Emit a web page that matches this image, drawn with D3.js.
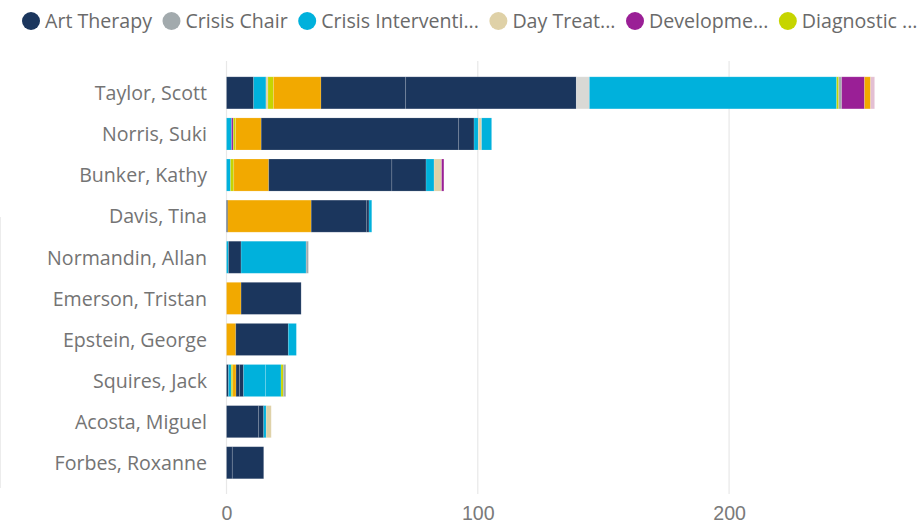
<!DOCTYPE html>
<html>
<head>
<meta charset="utf-8">
<script src="https://cdn.jsdelivr.net/npm/d3@7"></script>
<style>
  html, body { margin: 0; padding: 0; background: #ffffff; }
  svg { display: block; font-family: "Segoe UI", "Open Sans", sans-serif; }
</style>
</head>
<body>
<svg id="chart" width="923" height="524"></svg>
<script>
// Staff members, sorted by total hours
const staff = ["Taylor, Scott", "Norris, Suki", "Bunker, Kathy", "Davis, Tina", "Normandin, Allan",
  "Emerson, Tristan", "Epstein, George", "Squires, Jack", "Acosta, Miguel", "Forbes, Roxanne"];

// Service types in stacking order
const services = ["Art Therapy", "Crisis Chair", "Crisis Intervention", "Day Treatment", "Development",
  "Diagnostic", "Family Therapy", "Group Therapy", "Individual Therapy", "Intake", "Medication Mgmt",
  "Parent Training", "Psychiatric Eval", "Psych Testing", "Respite", "Skills Training", "Substance Use", "Telehealth"];

// Legend captions as they fit in the header
const legendLabels = ["Art Therapy", "Crisis Chair", "Crisis Interventi...", "Day Treat...", "Developme...", "Diagnostic ..."];

const serviceColors = ["#1b365d", "#a2aaad", "#00b1dc", "#dfd1a7", "#9a1f96", "#c6d500", "#f2a900",
  "#1b365d", "#1b365d", "#d9d9d5", "#00b1dc", "#dfd1a7", "#00b1dc", "#c6d500", "#a2aaad", "#9a1f96", "#f2a900", "#e3bfd3"];

// Hours per service, one value per staff member
const artTherapy         = [10.8, 0,    0,    0.5,  0,    0,    0,    0.8, 0,    0];
const crisisChair        = [0,    0,    0,    0,    0,    0,    0,    0,   0,    0];
const crisisIntervention = [4.9,  2.0,  1.6,  0,    0.8,  0,    0,    1.1, 0,    0];
const dayTreatment       = [0.8,  0,    0,    0,    0,    0,    0,    0,   0,    0];
const development        = [0,    0.7,  0,    0,    0,    0,    0,    0,   0,    0];
const diagnostic         = [2.2,  0.9,  1.3,  0,    0,    0,    0,    0.6, 0,    0];
const familyTherapy      = [18.9, 10.2, 13.9, 33.2, 0,    5.8,  3.7,  1.3, 0,    0];
const groupTherapy       = [33.7, 78.6, 49.0, 22.1, 5.0,  23.9, 20.9, 1.4, 12.8, 2.3];
const individualTherapy  = [67.9, 6.1,  13.6, 0.9,  0,    0,    0,    1.6, 2.0,  12.5];
const intake             = [5.2,  0,    0,    0,    0,    0,    0,    0,   0,    0];
const medicationMgmt     = [98.4, 1.7,  3.2,  1.1,  25.9, 0,    3.2,  8.7, 1.0,  0];
const parentTraining     = [0,    1.3,  3.0,  0,    0,    0,    0,    0,   2.0,  0];
const psychiatricEval    = [0,    4.0,  0,    0,    0,    0,    0,    6.2, 0,    0];
const psychTesting       = [0.8,  0,    0,    0,    0,    0,    0,    0.9, 0,    0];
const respite            = [1.2,  0,    0,    0,    0.9,  0,    0,    1.0, 0,    0];
const skillsTraining     = [9.1,  0,    0.9,  0,    0,    0,    0,    0,   0,    0];
const substanceUse       = [2.4,  0,    0,    0,    0,    0,    0,    0,   0,    0];
const telehealth         = [1.6,  0,    0,    0,    0,    0,    0,    0,   0,    0];

const xTicks = [0, 100, 200];

const seriesValues = [artTherapy, crisisChair, crisisIntervention, dayTreatment, development, diagnostic,
  familyTherapy, groupTherapy, individualTherapy, intake, medicationMgmt, parentTraining, psychiatricEval,
  psychTesting, respite, skillsTraining, substanceUse, telehealth];

// Build rows for d3.stack
const rows = staff.map((name, i) => {
  const row = { name };
  services.forEach((s, j) => { row[s] = seriesValues[j][i]; });
  return row;
});

const stacked = d3.stack().keys(services)(rows);

const svg = d3.select("#chart");

const x = d3.scaleLinear().domain([0, 100]).range([226.5, 477.8]);
const y = d3.scaleBand().domain(staff).range([72.3, 483.3]).paddingInner(0.22).paddingOuter(0.11);
const color = d3.scaleOrdinal().domain(services).range(serviceColors);

// Vertical gridlines
svg.append("g")
  .selectAll("line")
  .data(xTicks)
  .join("line")
  .attr("x1", d => x(d)).attr("x2", d => x(d))
  .attr("y1", 61).attr("y2", 494)
  .attr("stroke", "#e8e8e8")
  .attr("stroke-width", 1.2);

// Faint frame line at the left edge
svg.append("line")
  .attr("x1", 0.5).attr("x2", 0.5)
  .attr("y1", 217).attr("y2", 488)
  .attr("stroke", "#ececec");

// Stacked bars
svg.append("g")
  .selectAll("g")
  .data(stacked)
  .join("g")
  .attr("fill", d => color(d.key))
  .selectAll("rect")
  .data(d => d.filter(p => p[1] - p[0] > 0))
  .join("rect")
  .attr("x", p => x(p[0]))
  .attr("y", p => y(p.data.name))
  .attr("width", p => x(p[1]) - x(p[0]))
  .attr("height", y.bandwidth())
  .attr("stroke", "#ffffff")
  .attr("stroke-opacity", 0.18)
  .attr("stroke-width", 0.8);

// Category labels
svg.append("g")
  .selectAll("text")
  .data(staff)
  .join("text")
  .attr("x", 207)
  .attr("y", d => y(d) + y.bandwidth() / 2)
  .attr("dy", "0.37em")
  .attr("text-anchor", "end")
  .attr("font-size", 19.6)
  .attr("fill", "#747474")
  .text(d => d);

// Bottom axis labels
const xAxis = d3.axisBottom(x).tickValues(xTicks).tickSize(0).tickPadding(0);
const axisG = svg.append("g").attr("transform", "translate(0,506)").call(xAxis);
axisG.select(".domain").remove();
axisG.selectAll("text")
  .attr("font-family", null)
  .attr("font-size", 19.6)
  .attr("fill", "#7a7a7a")
  .attr("dy", "0.72em");

// Legend
const legend = svg.append("g").attr("transform", "translate(0,21)");
let cx = 31;
legendLabels.forEach((label, i) => {
  legend.append("circle")
    .attr("cx", cx).attr("cy", 0).attr("r", 9)
    .attr("fill", color(services[i]));
  const t = legend.append("text")
    .attr("x", cx + 14).attr("y", 0).attr("dy", "0.36em")
    .attr("font-size", 19.6)
    .attr("fill", "#6a6a6a")
    .text(label);
  cx += 14 + t.node().getComputedTextLength() + 19.5;
});
</script>
</body>
</html>
